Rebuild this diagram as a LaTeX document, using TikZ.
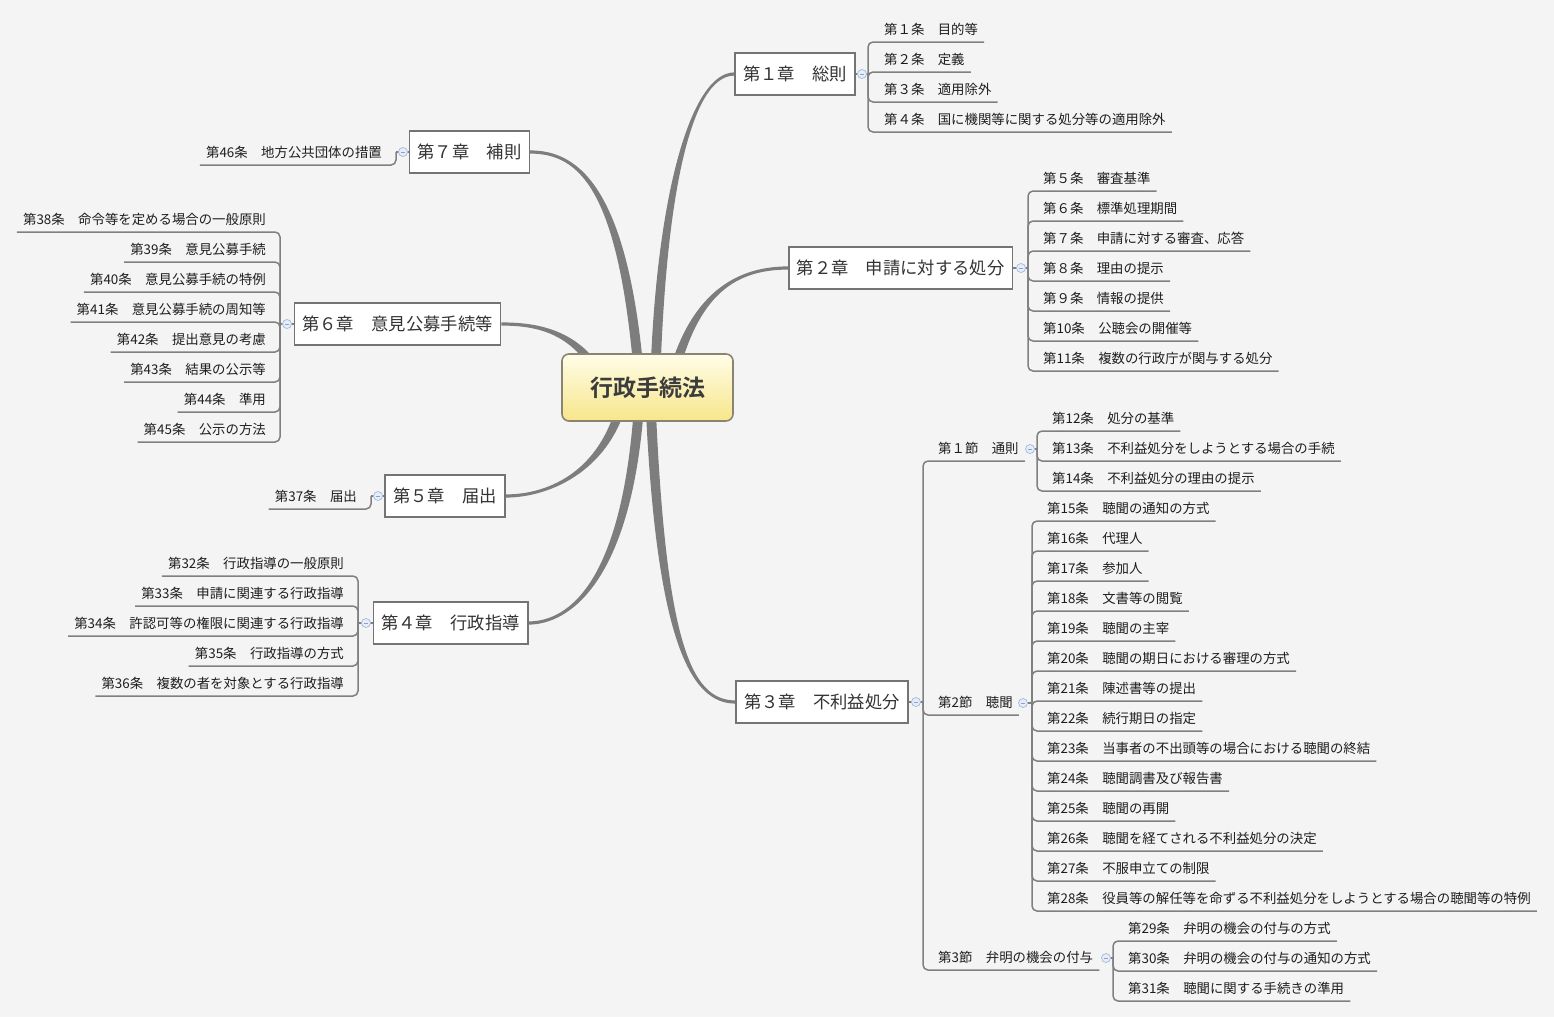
\documentclass[tikz,border=0pt]{standalone}
\usepackage{fontspec}
\setmainfont{Noto Sans CJK JP}[BoldFont={Noto Sans CJK JP Bold}]
\usetikzlibrary{calc}
\definecolor{bgcol}{HTML}{F4F4F4}
\definecolor{linkcol}{HTML}{808080}
\definecolor{branchcol}{HTML}{7D7D7D}
\definecolor{chapedge}{HTML}{747474}
\definecolor{chaptext}{HTML}{333333}
\definecolor{leaftext}{HTML}{1E1E1E}
\definecolor{roottop}{HTML}{FFFDE8}
\definecolor{rootbot}{HTML}{F7E68A}
\definecolor{rootedge}{HTML}{8C8472}
\definecolor{roottext}{HTML}{3C3C3C}
\definecolor{toggleedge}{HTML}{A2B9DB}
\definecolor{togglefill}{HTML}{E6EDF8}
\definecolor{toggleminus}{HTML}{8AA3CA}
\pgfdeclarelayer{back}
\pgfdeclarelayer{links}
\pgfsetlayers{back,links,main}
\tikzset{
  rootbox/.style={draw=rootedge, line width=1.6pt, rounded corners=7pt,
    top color=roottop, bottom color=rootbot, minimum width=171pt, minimum height=67pt,
    font=\fontsize{23}{26}\selectfont\bfseries, text=roottext},
  chapter/.style={draw=chapedge, line width=1.6pt, fill=white, inner xsep=8pt,
    minimum height=42pt, font=\fontsize{17.3}{20}\selectfont, text=chaptext},
  leaf/.style={inner xsep=6pt, inner ysep=0pt, minimum height=24pt,
    font=\fontsize{13.4}{15}\selectfont, text=leaftext},
  link/.style={draw=linkcol, line width=1.5pt, rounded corners=5pt},
  branchfill/.style={fill=branchcol},
  toggle/.style={circle, draw=toggleedge, fill=togglefill, line width=0.7pt,
    minimum size=9pt, inner sep=0pt,
    path picture={\draw[toggleminus, line width=0.8pt]
      ($(path picture bounding box.center)+(-2.2,0)$) -- ($(path picture bounding box.center)+(2.2,0)$);}}
}
% tapered branch: start, control 1, control 2, end, half width at start, half width at end
\newcommand{\branch}[6]{%
  \fill[branchfill] ($#1+#5$) .. controls ($#2+#5$) and ($#3+#6$) .. ($#4+#6$)
    -- ($#4-#6$) .. controls ($#3-#6$) and ($#2-#5$) .. ($#1-#5$) -- cycle;}

\begin{document}
\begin{tikzpicture}[x=1pt,y=-1pt]
\useasboundingbox (0,0) rectangle (1554,1017);
\begin{pgfonlayer}{back}
\fill[bgcol] (0,0) rectangle (1554,1017);
\end{pgfonlayer}

% central topic and chapters
\node[rootbox] (root) at (647.5,387.5) {行政手続法};
\node[chapter] (ch1) at (795,74) {第１章　総則};
\node[chapter] (ch2) at (900.5,268) {第２章　申請に対する処分};
\node[chapter] (ch3) at (822,702) {第３章　不利益処分};
\node[chapter] (ch4) at (450.5,623) {第４章　行政指導};
\node[chapter] (ch5) at (445,496) {第５章　届出};
\node[chapter] (ch6) at (397.5,324) {第６章　意見公募手続等};
\node[chapter] (ch7) at (469.5,152) {第７章　補則};

% chapter 1
\node[leaf,anchor=south west] (a1) at (878,42) {第１条　目的等};
\node[leaf,anchor=south west] (a2) at (878,72) {第２条　定義};
\node[leaf,anchor=south west] (a3) at (878,102) {第３条　適用除外};
\node[leaf,anchor=south west] (a4) at (878,132) {第４条　国に機関等に関する処分等の適用除外};

% chapter 2
\node[leaf,anchor=south west] (a5) at (1037,191) {第５条　審査基準};
\node[leaf,anchor=south west] (a6) at (1037,221) {第６条　標準処理期間};
\node[leaf,anchor=south west] (a7) at (1037,251) {第７条　申請に対する審査、応答};
\node[leaf,anchor=south west] (a8) at (1037,281) {第８条　理由の提示};
\node[leaf,anchor=south west] (a9) at (1037,311) {第９条　情報の提供};
\node[leaf,anchor=south west] (a10) at (1037,341) {第10条　公聴会の開催等};
\node[leaf,anchor=south west] (a11) at (1037,371) {第11条　複数の行政庁が関与する処分};

% chapter 3
\node[leaf,anchor=south west] (s1) at (932,461) {第１節　通則};
\node[leaf,anchor=south west] (s2) at (932,715) {第2節　聴聞};
\node[leaf,anchor=south west] (s3) at (932,970) {第3節　弁明の機会の付与};

\node[leaf,anchor=south west] (a12) at (1046,431) {第12条　処分の基準};
\node[leaf,anchor=south west] (a13) at (1046,461) {第13条　不利益処分をしようとする場合の手続};
\node[leaf,anchor=south west] (a14) at (1046,491) {第14条　不利益処分の理由の提示};

\node[leaf,anchor=south west] (a15) at (1041,521) {第15条　聴聞の通知の方式};
\node[leaf,anchor=south west] (a16) at (1041,551) {第16条　代理人};
\node[leaf,anchor=south west] (a17) at (1041,581) {第17条　参加人};
\node[leaf,anchor=south west] (a18) at (1041,611) {第18条　文書等の閲覧};
\node[leaf,anchor=south west] (a19) at (1041,641) {第19条　聴聞の主宰};
\node[leaf,anchor=south west] (a20) at (1041,671) {第20条　聴聞の期日における審理の方式};
\node[leaf,anchor=south west] (a21) at (1041,701) {第21条　陳述書等の提出};
\node[leaf,anchor=south west] (a22) at (1041,731) {第22条　続行期日の指定};
\node[leaf,anchor=south west] (a23) at (1041,761) {第23条　当事者の不出頭等の場合における聴聞の終結};
\node[leaf,anchor=south west] (a24) at (1041,791) {第24条　聴聞調書及び報告書};
\node[leaf,anchor=south west] (a25) at (1041,821) {第25条　聴聞の再開};
\node[leaf,anchor=south west] (a26) at (1041,851) {第26条　聴聞を経てされる不利益処分の決定};
\node[leaf,anchor=south west] (a27) at (1041,881) {第27条　不服申立ての制限};
\node[leaf,anchor=south west] (a28) at (1041,911) {第28条　役員等の解任等を命ずる不利益処分をしようとする場合の聴聞等の特例};

\node[leaf,anchor=south west] (a29) at (1122,941) {第29条　弁明の機会の付与の方式};
\node[leaf,anchor=south west] (a30) at (1122,971) {第30条　弁明の機会の付与の通知の方式};
\node[leaf,anchor=south west] (a31) at (1122,1001) {第31条　聴聞に関する手続きの準用};

% chapter 4
\node[leaf,anchor=south east] (a32) at (350,576) {第32条　行政指導の一般原則};
\node[leaf,anchor=south east] (a33) at (350,606) {第33条　申請に関連する行政指導};
\node[leaf,anchor=south east] (a34) at (350,636) {第34条　許認可等の権限に関連する行政指導};
\node[leaf,anchor=south east] (a35) at (350,666) {第35条　行政指導の方式};
\node[leaf,anchor=south east] (a36) at (350,696) {第36条　複数の者を対象とする行政指導};

% chapter 5
\node[leaf,anchor=south east] (a37) at (363,509) {第37条　届出};

% chapter 6
\node[leaf,anchor=south east] (a38) at (272,232) {第38条　命令等を定める場合の一般原則};
\node[leaf,anchor=south east] (a39) at (272,262) {第39条　意見公募手続};
\node[leaf,anchor=south east] (a40) at (272,292) {第40条　意見公募手続の特例};
\node[leaf,anchor=south east] (a41) at (272,322) {第41条　意見公募手続の周知等};
\node[leaf,anchor=south east] (a42) at (272,352) {第42条　提出意見の考慮};
\node[leaf,anchor=south east] (a43) at (272,382) {第43条　結果の公示等};
\node[leaf,anchor=south east] (a44) at (272,412) {第44条　準用};
\node[leaf,anchor=south east] (a45) at (272,442) {第45条　公示の方法};

% chapter 7
\node[leaf,anchor=south east] (a46) at (388,165) {第46条　地方公共団体の措置};

% collapse toggles
\node[toggle] (t1) at (862,74) {};
\node[toggle] (t2) at (1021,268) {};
\node[toggle] (t3) at (916,702) {};
\node[toggle] (ts1) at (1030,449) {};
\node[toggle] (ts2) at (1023,703) {};
\node[toggle] (ts3) at (1106,958) {};
\node[toggle] (t4) at (366,623) {};
\node[toggle] (t5) at (378,496) {};
\node[toggle] (t6) at (287,324) {};
\node[toggle] (t7) at (403,152) {};

% bracket junctions
\coordinate (j1) at (868,74);
\coordinate (j2) at (1028,268);
\coordinate (j3) at (923,702);
\coordinate (js1) at (1037,449);
\coordinate (js2) at (1032,703);
\coordinate (js3) at (1113,958);
\coordinate (j4) at (358,623);
\coordinate (j5) at (371,496);
\coordinate (j6) at (280,324);
\coordinate (j7) at (396,152);

% branch roots inside the central topic
\coordinate (r1) at (655,388);
\coordinate (r2) at (670,388);
\coordinate (r3) at (650,390);
\coordinate (r4) at (640,390);
\coordinate (r5) at (625,390);
\coordinate (r6) at (610,395);
\coordinate (r7) at (640,388);

\begin{pgfonlayer}{links}
% thick branches
\branch{(r1)}{(660,200)}{(690,74)}{(ch1.west)}{(5,0)}{(0,1.6)}
\branch{(r2)}{(690,300)}{(730,268)}{(ch2.west)}{(5,0)}{(0,1.6)}
\branch{(r3)}{(660,640)}{(690,702)}{(ch3.west)}{(5,0)}{(0,-1.6)}
\branch{(r4)}{(630,580)}{(570,623)}{(ch4.east)}{(5,0)}{(0,1.6)}
\branch{(r5)}{(610,470)}{(550,496)}{(ch5.east)}{(5,0)}{(0,1.6)}
\branch{(r6)}{(585,335)}{(545,324)}{(ch6.east)}{(4.5,-2)}{(0,-1.6)}
\branch{(r7)}{(625,190)}{(580,152)}{(ch7.east)}{(5,0)}{(0,-1.6)}

% chapter 1
\draw[link] (ch1.east) -- (j1);
\draw[link] (j1) |- (a1.south east);
\draw[link] (j1) |- (a2.south east);
\draw[link] (j1) |- (a3.south east);
\draw[link] (j1) |- (a4.south east);

% chapter 2
\draw[link] (ch2.east) -- (j2);
\draw[link] (j2) |- (a5.south east);
\draw[link] (j2) |- (a6.south east);
\draw[link] (j2) |- (a7.south east);
\draw[link] (j2) |- (a8.south east);
\draw[link] (j2) |- (a9.south east);
\draw[link] (j2) |- (a10.south east);
\draw[link] (j2) |- (a11.south east);

% chapter 3
\draw[link] (ch3.east) -- (j3);
\draw[link] (j3) |- (s1.south east);
\draw[link] (j3) |- (s2.south east);
\draw[link] (j3) |- (s3.south east);

\draw[link] (ts1) -- (js1);
\draw[link] (js1) |- (a12.south east);
\draw[link] (js1) |- (a13.south east);
\draw[link] (js1) |- (a14.south east);

\draw[link] (ts2) -- (js2);
\draw[link] (js2) |- (a15.south east);
\draw[link] (js2) |- (a16.south east);
\draw[link] (js2) |- (a17.south east);
\draw[link] (js2) |- (a18.south east);
\draw[link] (js2) |- (a19.south east);
\draw[link] (js2) |- (a20.south east);
\draw[link] (js2) |- (a21.south east);
\draw[link] (js2) |- (a22.south east);
\draw[link] (js2) |- (a23.south east);
\draw[link] (js2) |- (a24.south east);
\draw[link] (js2) |- (a25.south east);
\draw[link] (js2) |- (a26.south east);
\draw[link] (js2) |- (a27.south east);
\draw[link] (js2) |- (a28.south east);

\draw[link] (ts3) -- (js3);
\draw[link] (js3) |- (a29.south east);
\draw[link] (js3) |- (a30.south east);
\draw[link] (js3) |- (a31.south east);

% chapter 4
\draw[link] (ch4.west) -- (j4);
\draw[link] (j4) |- (a32.south west);
\draw[link] (j4) |- (a33.south west);
\draw[link] (j4) |- (a34.south west);
\draw[link] (j4) |- (a35.south west);
\draw[link] (j4) |- (a36.south west);

% chapter 5
\draw[link] (ch5.west) -- (j5);
\draw[link] (j5) |- (a37.south west);

% chapter 6
\draw[link] (ch6.west) -- (j6);
\draw[link] (j6) |- (a38.south west);
\draw[link] (j6) |- (a39.south west);
\draw[link] (j6) |- (a40.south west);
\draw[link] (j6) |- (a41.south west);
\draw[link] (j6) |- (a42.south west);
\draw[link] (j6) |- (a43.south west);
\draw[link] (j6) |- (a44.south west);
\draw[link] (j6) |- (a45.south west);

% chapter 7
\draw[link] (ch7.west) -- (j7);
\draw[link] (j7) |- (a46.south west);
\end{pgfonlayer}
\end{tikzpicture}
\end{document}
